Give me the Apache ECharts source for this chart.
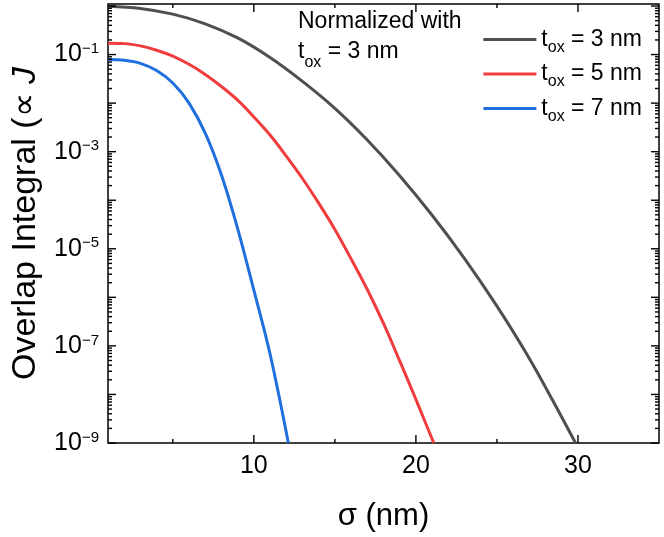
<!DOCTYPE html>
<html>
<head>
<meta charset="utf-8">
<script src="https://cdn.jsdelivr.net/npm/echarts@6/dist/echarts.min.js"></script>
<style>
  html, body { margin: 0; padding: 0; background: #fff; }
  #chart { width: 664px; height: 537px; }
</style>
</head>
<body>
<div id="chart"></div>
<script>
// values (sigma in nm, overlap normalised)
const sigma3 = [1, 3, 5, 7, 9, 11, 13, 15, 17, 19, 21, 23, 25, 27, 29, 29.85]
const overlap3 = [0.99, 0.89, 0.68, 0.43, 0.22, 0.087, 0.028, 7.8e-3, 1.74e-3, 3.2e-4, 4.9e-5, 6.3e-6, 6.6e-7, 5.5e-8, 3.4e-9, 1e-9]

const sigma5 = [1, 2, 3, 4, 5, 6, 7, 8, 9, 10, 11, 12, 13, 14, 15, 16, 17, 18, 19, 20, 21.1]
const overlap5 = [0.17, 0.168, 0.151, 0.123, 0.093, 0.063, 0.039, 0.022, 0.0115, 5.2e-3, 2.2e-3, 8.1e-4, 2.8e-4, 8.7e-5, 2.5e-5, 6.2e-6, 1.45e-6, 2.9e-7, 4.9e-8, 7.9e-9, 1e-9]

const sigma7 = [1, 2, 3, 4, 5, 6, 7, 8, 9, 10, 11, 12.13]
const overlap7 = [0.079, 0.076, 0.066, 0.047, 0.026, 0.010, 2.4e-3, 3.3e-4, 2.6e-5, 1.4e-6, 6.8e-8, 1e-9]

const seriesNames = ['tox3', 'tox5', 'tox7']
const thicknessLabels = ['3', '5', '7']

const X_MIN = 1
const X_MAX = 35
const Y_MIN = 1e-9
const Y_MAX = 1.1

const xMajorTicks = [10, 20, 30]
const xMinorTicks = [5, 15, 25]
const yMajorTicks = [1e-9, 1e-8, 1e-7, 1e-6, 1e-5, 1e-4, 1e-3, 1e-2, 1e-1, 1]
const yTickLabels = [1e-9, 1e-7, 1e-5, 1e-3, 1e-1]
const minorMultipliers = [2, 3, 4, 5, 6, 7, 8, 9]

const yMinorTicks = []
yMajorTicks.slice(0, -1).forEach(d => {
  minorMultipliers.forEach(m => yMinorTicks.push(m * d))
})

const FONT = 'Liberation Sans, Arial, sans-serif'
const colors = ['#4f4f4f', '#f03c3c', '#1f6fde']

const pairs = (xs, ys) => xs.map((x, i) => [x, ys[i]])

const chart = echarts.init(document.getElementById('chart'))

// inward ticks on all four sides, positioned through the axes' own scales
const tickSeries = (dim, vals, len) => ({
  type: 'custom',
  coordinateSystem: 'cartesian2d',
  silent: true,
  clip: false,
  z: 5,
  data: vals.map(v => (dim === 'x' ? [v, Y_MIN] : [X_MIN, v])),
  renderItem: (params, api) => {
    const cs = params.coordSys
    const p = api.coord([api.value(0), api.value(1)])
    const style = { stroke: '#000', lineWidth: 1.4 }
    if (dim === 'x') {
      const bottom = cs.y + cs.height
      return {
        type: 'group',
        children: [
          { type: 'line', shape: { x1: p[0], y1: bottom, x2: p[0], y2: bottom - len }, style },
          { type: 'line', shape: { x1: p[0], y1: cs.y, x2: p[0], y2: cs.y + len }, style }
        ]
      }
    }
    const right = cs.x + cs.width
    return {
      type: 'group',
      children: [
        { type: 'line', shape: { x1: cs.x, y1: p[1], x2: cs.x + len, y2: p[1] }, style },
        { type: 'line', shape: { x1: right, y1: p[1], x2: right - len, y2: p[1] }, style }
      ]
    }
  }
})

const supLabel = (v) => {
  const e = Math.round(Math.log10(v))
  return '{b|10}{s|' + (e < 0 ? '\u2212' + (-e) : e) + '}'
}

const option = {
  animation: false,
  grid: {
    left: 108, right: 5, top: 4, bottom: 89, containLabel: false,
    show: true, borderColor: '#000', borderWidth: 1.5, backgroundColor: 'transparent'
  },
  xAxis: {
    type: 'value',
    min: X_MIN,
    max: X_MAX,
    axisLine: { show: false },
    axisTick: { show: false },
    splitLine: { show: false },
    axisLabel: {
      customValues: xMajorTicks, margin: 11,
      color: '#000', fontFamily: FONT, fontSize: 25
    },
    name: 'σ (nm)',
    nameLocation: 'middle',
    nameGap: 58,
    nameTextStyle: { color: '#000', fontFamily: FONT, fontSize: 31 }
  },
  yAxis: {
    type: 'log',
    logBase: 10,
    min: Y_MIN,
    max: Y_MAX,
    axisLine: { show: false },
    axisTick: { show: false },
    splitLine: { show: false },
    axisLabel: {
      customValues: yTickLabels, margin: 9,
      formatter: supLabel,
      rich: {
        b: { color: '#000', fontFamily: FONT, fontSize: 25, lineHeight: 26 },
        s: { color: '#000', fontFamily: FONT, fontSize: 15, verticalAlign: 'top', lineHeight: 26 }
      }
    },
    name: '{n|Overlap Integral (∝ }{i|J}',
    nameLocation: 'middle',
    nameGap: 65,
    nameTextStyle: {
      rich: {
        n: { color: '#000', fontFamily: FONT, fontSize: 34 },
        i: { color: '#000', fontFamily: FONT, fontSize: 34, fontStyle: 'italic' }
      }
    }
  },
  legend: {
    orient: 'vertical',
    right: 17,
    top: 23,
    itemWidth: 53,
    itemHeight: 3,
    itemGap: 7,
    icon: 'rect',
    data: seriesNames,
    formatter: (name) => {
      const i = seriesNames.indexOf(name)
      return '{t|t}{o|ox}{t| = ' + thicknessLabels[i] + ' nm}'
    },
    textStyle: {
      rich: {
        t: { color: '#000', fontFamily: FONT, fontSize: 23, lineHeight: 24 },
        o: { color: '#000', fontFamily: FONT, fontSize: 16, lineHeight: 24, verticalAlign: 'bottom', padding: [0, 0, -4, 0] }
      }
    }
  },
  graphic: [
    {
      type: 'text',
      left: 298,
      top: 10,
      z: 10,
      style: {
        text: '{t|Normalized with}\n{t|t}{o|ox}{t| = 3 nm}',
        rich: {
          t: { fill: '#000', fontFamily: FONT, fontSize: 23, lineHeight: 30 },
          o: { fill: '#000', fontFamily: FONT, fontSize: 16, lineHeight: 30, verticalAlign: 'bottom', padding: [0, 0, -4, 0] }
        }
      }
    }
  ],
  series: [
    ...[
      pairs(sigma3, overlap3),
      pairs(sigma5, overlap5),
      pairs(sigma7, overlap7)
    ].map((data, i) => ({
      name: seriesNames[i],
      type: 'line',
      data: data,
      smooth: 0.35,
      showSymbol: false,
      symbol: 'none',
      color: colors[i],
      lineStyle: { color: colors[i], width: 3 }
    })),
    tickSeries('x', xMajorTicks, 8),
    tickSeries('x', xMinorTicks, 4),
    tickSeries('y', yMajorTicks, 8),
    tickSeries('y', yMinorTicks, 4)
  ]
}

chart.setOption(option)
window.addEventListener('resize', () => chart.resize())
</script>
</body>
</html>
